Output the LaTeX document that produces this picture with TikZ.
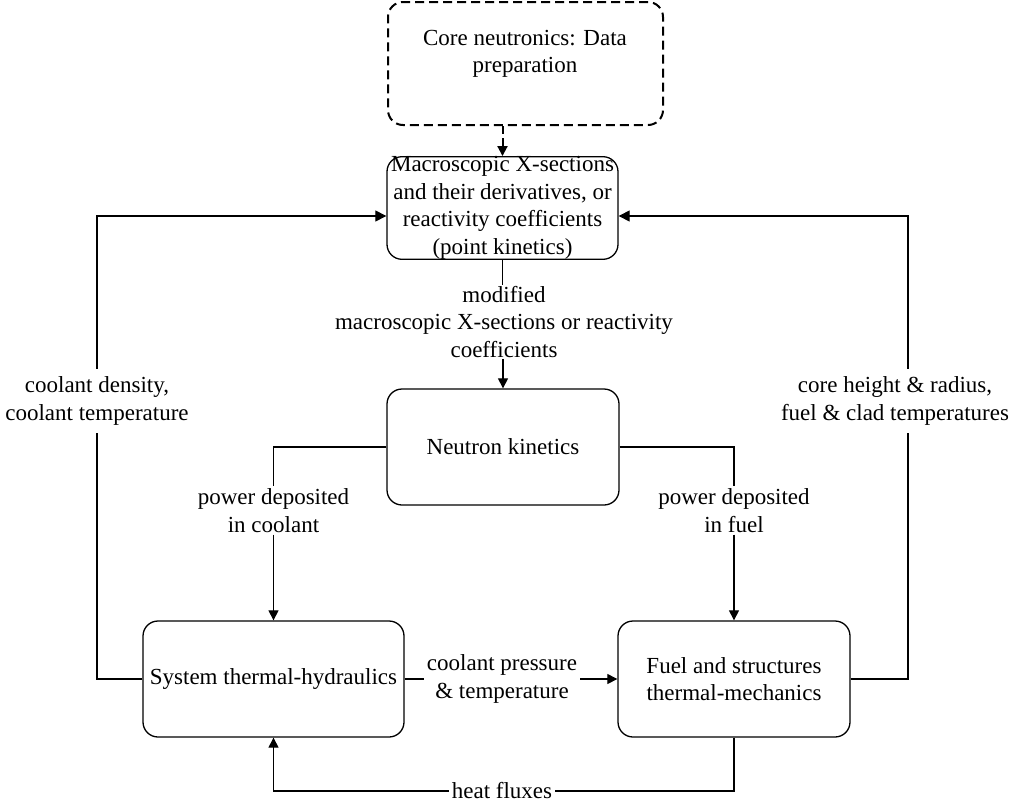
\documentclass[tikz,border=0pt]{standalone}
\usepackage{fontspec}
\setmainfont{Liberation Serif}
\usetikzlibrary{arrows.meta,calc}
\begin{document}
\begin{tikzpicture}[x=1pt,y=-1pt,
  txt/.style={font=\fontsize{23}{27.5}\selectfont, align=center},
  box/.style={txt, draw, line width=1.3pt, rounded corners=15pt, inner sep=0pt},
  dbox/.style={draw, line width=2pt, dash pattern=on 9pt off 5pt, rounded corners=15pt, inner sep=0pt},
  lbl/.style={txt, inner xsep=3pt, inner ysep=2pt},
  conn/.style={line width=1.1pt},
  dconn/.style={line width=2pt, dash pattern=on 8pt off 4pt},
  tip/.style={-{Triangle[length=10pt,width=10pt]}}
]
\useasboundingbox (0,0) rectangle (1023,803);

% boxes
\node[dbox, minimum width=275pt, minimum height=123pt] (prep) at (525.5,63.5) {};
\node[txt, inner sep=0pt] (preptxt) at (525,54) {Core neutronics: Data\\preparation};
\node[box, minimum width=231pt, minimum height=100pt] (macro) at (502.5,208)
  {Macroscopic X-sections\\and their derivatives, or\\reactivity coefficients\\(point kinetics)};
\node[box, minimum width=232pt, minimum height=116pt] (nk) at (503,447) {Neutron kinetics};
\node[box, minimum width=261pt, minimum height=116pt] (sth) at (273.5,679) {System thermal-hydraulics};
\node[box, minimum width=232pt, minimum height=116pt] (fuel) at (734,679) {Fuel and structures\\thermal-mechanics};

% labels
\node[lbl, inner ysep=1pt] (mod) at (504,322) {modified\\macroscopic X-sections or reactivity\\coefficients};
\node[lbl, inner ysep=8pt] (cd) at (97,401) {coolant density,\\coolant temperature};
\node[lbl, inner ysep=8pt] (cr) at (895,401) {core height \& radius,\\fuel \& clad temperatures};
\node[lbl] (pc) at (273.5,510.5) {power deposited\\in coolant};
\node[lbl] (pf) at (734,510.5) {power deposited\\in fuel};
\node[lbl] (cp) at (502,679) {coolant pressure\\\& temperature};
\node[lbl, inner ysep=0pt] (hf) at (502,791) {heat fluxes};

\coordinate (lcol) at (97,0);
\coordinate (rcol) at (908,0);

% connectors
\draw[dconn, tip] (prep.south -| macro.north) -- (macro.north);
\draw[conn] (macro.south) -- (macro.south |- mod.north);
\draw[conn, tip] (mod.south -| nk.north) -- (nk.north);

\draw[conn] (sth.west) -| (lcol |- cd.south);
\draw[conn, -{Triangle[length=11pt,width=11pt]}] (lcol |- cd.north) |- ($(macro.west)+(0,8)$);

\draw[conn] (fuel.east) -| (rcol |- cr.south);
\draw[conn, -{Triangle[length=11pt,width=11pt]}] (rcol |- cr.north) |- ($(macro.east)+(0,8)$);

\draw[conn] (nk.west) -| (pc.north);
\draw[conn, tip] (pc.south) -- (sth.north);
\draw[conn] (nk.east) -| (pf.north);
\draw[conn, tip] (pf.south) -- (fuel.north);

\draw[conn] (sth.east) -- (cp.west);
\draw[conn, tip] (cp.east) -- (fuel.west);

\draw[conn] (fuel.south) |- (hf.east);
\draw[conn, tip] (hf.west) -| (sth.south);
\end{tikzpicture}
\end{document}
